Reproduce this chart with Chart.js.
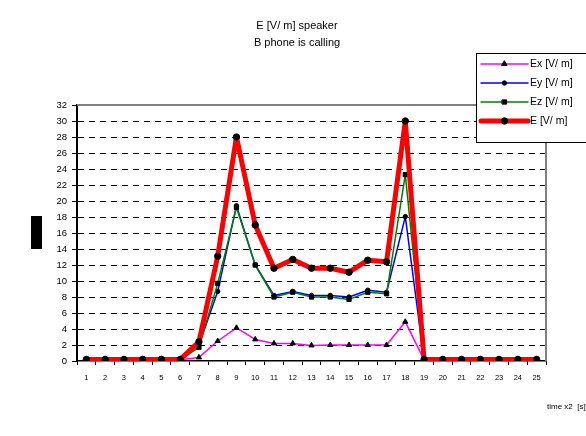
<!DOCTYPE html>
<html>
<head>
<meta charset="utf-8">
<script src="https://cdn.jsdelivr.net/npm/chart.js@4/dist/chart.umd.min.js"></script>
<style>
  body { margin: 0; background: #fff; }
  #caja { width: 586px; height: 436px; }
</style>
</head>
<body>
<div id="caja"><canvas id="grafica" width="586" height="436"></canvas></div>
<script>
// time x2 [s]
const tiempos = ['1', '2', '3', '4', '5', '6', '7', '8', '9', '10', '11', '12', '13',
  '14', '15', '16', '17', '18', '19', '20', '21', '22', '23', '24', '25'];

const valoresEx = [0.15, 0.15, 0.15, 0.15, 0.15, 0.15, 0.45, 2.5, 4.15, 2.7, 2.2, 2.2, 1.95,
  2.0, 2.0, 2.0, 2.0, 4.9, 0.15, 0.15, 0.15, 0.15, 0.15, 0.15, 0.15];
const valoresEy = [0.15, 0.15, 0.15, 0.15, 0.15, 0.15, 2.0, 8.7, 19.4, 12.0, 8.2, 8.7, 8.2,
  8.2, 8.0, 8.85, 8.6, 18.05, 0.15, 0.15, 0.15, 0.15, 0.15, 0.15, 0.15];
const valoresEz = [0.15, 0.15, 0.15, 0.15, 0.15, 0.15, 1.7, 9.7, 19.2, 12.0, 8.0, 8.6, 8.0,
  8.0, 7.7, 8.6, 8.4, 23.3, 0.15, 0.15, 0.15, 0.15, 0.15, 0.15, 0.15];
const valoresE = [0.2, 0.2, 0.2, 0.2, 0.2, 0.2, 2.4, 13.1, 28.0, 17.0, 11.6, 12.7, 11.6,
  11.6, 11.1, 12.6, 12.4, 30.0, 0.2, 0.2, 0.2, 0.2, 0.2, 0.2, 0.2];

const ticksY = [0, 2, 4, 6, 8, 10, 12, 14, 16, 18, 20, 22, 24, 26, 28, 30, 32];

const titulo = ['E [V/ m] speaker', 'B phone is calling'];
const tituloX = 'time x2  [s]';
const fuente = '"Liberation Sans", Arial, sans-serif';

function serie(label, data, color, ancho, forma, radio, orden) {
  return {
    label, data,
    borderColor: color,
    backgroundColor: color,
    borderWidth: ancho,
    borderJoinStyle: 'round',
    borderCapStyle: 'round',
    pointStyle: forma,
    pointRadius: radio,
    pointBackgroundColor: '#000',
    pointBorderColor: '#000',
    pointBorderWidth: 1,
    tension: 0,
    order: orden
  };
}

const series = [
  serie('Ex [V/ m]', valoresEx, '#ff00ff', 1.5, 'triangle', 3, 3),
  serie('Ey [V/ m]', valoresEy, '#0000ff', 1.5, 'circle', 2.2, 2),
  serie('Ez [V/ m]', valoresEz, '#008000', 1.5, 'rect', 3, 1),
  serie('E [V/ m]', valoresE, '#ff0000', 5, 'circle', 3.2, 0)
];

// Titles, plot frame, legend box and the black block on the left
const decoracion = {
  id: 'decoracion',
  beforeDatasetsDraw(chart) {
    const { ctx, chartArea: a } = chart;
    ctx.save();
    ctx.strokeStyle = '#808080';
    ctx.lineWidth = 2;
    ctx.beginPath();
    ctx.moveTo(a.left, a.top);
    ctx.lineTo(a.right, a.top);
    ctx.lineTo(a.right, a.bottom);
    ctx.stroke();
    ctx.restore();
  },
  afterDraw(chart) {
    const { ctx } = chart;
    ctx.save();
    ctx.fillStyle = '#000';
    ctx.textAlign = 'center';
    ctx.textBaseline = 'middle';
    ctx.font = '11px ' + fuente;
    ctx.fillText(titulo[0], 297, 26);
    ctx.fillText(titulo[1], 297, 43);

    ctx.font = '8px ' + fuente;
    ctx.textAlign = 'left';
    ctx.fillText(tituloX, 547, 407);

    ctx.fillRect(31, 216, 11, 33);

    // legend
    const x0 = 476, y0 = 53;
    ctx.fillStyle = '#fff';
    ctx.fillRect(x0, y0, 120, 89);
    ctx.strokeStyle = '#000';
    ctx.lineWidth = 1;
    ctx.strokeRect(x0 + 0.5, y0 + 0.5, 120, 89);
    chart.data.datasets.forEach((ds, i) => {
      const y = 64 + i * 19;
      ctx.strokeStyle = ds.borderColor;
      ctx.lineWidth = ds.borderWidth;
      ctx.lineCap = 'round';
      ctx.beginPath();
      ctx.moveTo(481, y);
      ctx.lineTo(528, y);
      ctx.stroke();
      ctx.fillStyle = '#000';
      ctx.strokeStyle = '#000';
      ctx.lineWidth = 1;
      Chart.helpers.drawPoint(ctx, {
        pointStyle: ds.pointStyle, radius: ds.pointRadius, borderWidth: 1, rotation: 0
      }, 504.5, y);
      ctx.font = '10.5px ' + fuente;
      ctx.textAlign = 'left';
      ctx.fillText(ds.label, 530, y + 0.5);
    });
    ctx.restore();
  }
};

new Chart(document.getElementById('grafica').getContext('2d'), {
  type: 'line',
  data: { labels: tiempos, datasets: series },
  options: {
    responsive: false,
    animation: false,
    layout: { padding: { top: 105, right: 40, left: 0, bottom: 0 } },
    plugins: {
      legend: { display: false },
      title: { display: false },
      tooltip: { enabled: false }
    },
    scales: {
      x: {
        offset: true,
        afterFit: escala => { escala.height = 75; },
        grid: {
          offset: true,
          drawOnChartArea: false,
          tickLength: 4,
          tickColor: '#000',
          tickWidth: 1
        },
        border: { color: '#000', width: 1.5 },
        ticks: {
          autoSkip: false,
          maxRotation: 0,
          padding: 8,
          color: '#000',
          font: { family: fuente, size: 7.5 }
        }
      },
      y: {
        min: 0,
        max: 32,
        afterFit: escala => { escala.width = 77; },
        afterBuildTicks: escala => { escala.ticks = ticksY.map(v => ({ value: v })); },
        grid: {
          color: c => (c.tick && (c.tick.value === 0 || c.tick.value === 32)) ? 'rgba(0,0,0,0)' : '#000',
          lineWidth: 1,
          tickLength: 5,
          tickColor: '#000'
        },
        border: { color: '#000', width: 2, dash: [6, 5] },
        ticks: {
          padding: 5,
          color: '#000',
          font: { family: fuente, size: 9.5 }
        }
      }
    }
  },
  plugins: [decoracion]
});
</script>
</body>
</html>
